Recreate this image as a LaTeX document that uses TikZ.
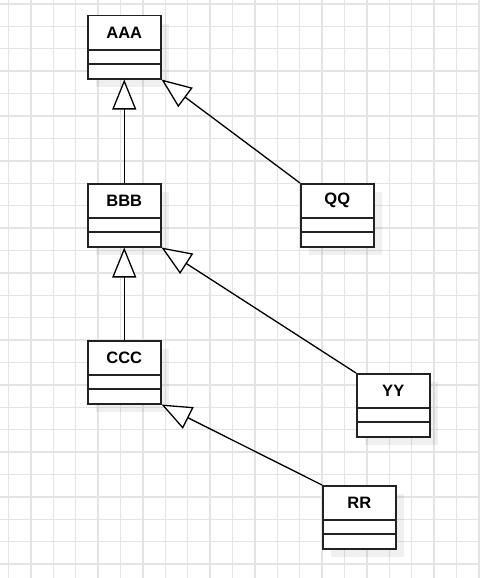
\documentclass[tikz,border=0pt]{standalone}
\usepackage{fontspec}
\setmainfont{Liberation Sans}
\usetikzlibrary{arrows.meta,calc,shadows}
\definecolor{gridc}{HTML}{E4E4E4}
\definecolor{boxc}{HTML}{222222}
\tikzset{
  classbox/.style={draw=boxc, line width=1.5pt, fill=white, rectangle, anchor=north west,
    minimum width=73pt, minimum height=63pt, inner sep=0pt,
    drop shadow={shadow xshift=8pt, shadow yshift=-8pt, fill=black, opacity=0.06}},
  lbl/.style={font=\bfseries\fontsize{16.5}{18}\selectfont, inner sep=0pt},
  divider/.style={draw=boxc, line width=1.5pt},
  inherit/.style={draw=black, line width=1.3pt,
    -{Triangle[length=30pt,width=24pt,fill=white,line join=miter]}},
}
\newcommand{\umlclass}[4]{%
  \node[classbox] (#1) at (#2,#3) {};
  \node[lbl] (#1-name) at ($(#1.north)+(0,17.5)$) {#4};
  \draw[divider] ($(#1.north west)+(0,35)$) -- ($(#1.north east)+(0,35)$);
  \draw[divider] ($(#1.north west)+(0,49)$) -- ($(#1.north east)+(0,49)$);
}
\begin{document}
\begin{tikzpicture}[x=1pt,y=-1pt]
\useasboundingbox (0,0) rectangle (480,578);
\fill[white] (0,0) rectangle (480,578);
\foreach \k in {0,...,21} {
  \draw[gridc, line width=1.4pt] ({8.5+22.4*\k},0) -- ({8.5+22.4*\k},578);
}
\foreach \k in {0,...,25} {
  \draw[gridc, line width=1.4pt] (0,{4+22.4*\k}) -- (480,{4+22.4*\k});
}
\umlclass{A}{87}{15}{AAA}
\umlclass{B}{87}{183}{BBB}
\umlclass{Q}{300}{183}{QQ}
\umlclass{C}{87}{340}{CCC}
\umlclass{Y}{356}{373}{YY}
\umlclass{R}{322}{485}{RR}
\draw[inherit] (B.north) -- (A.south);
\draw[inherit] (Q.north west) -- (A.south east);
\draw[inherit] (C.north) -- (B.south);
\draw[inherit] (Y.north west) -- (B.south east);
\draw[inherit] (R.north west) -- (C.south east);
\end{tikzpicture}
\end{document}
